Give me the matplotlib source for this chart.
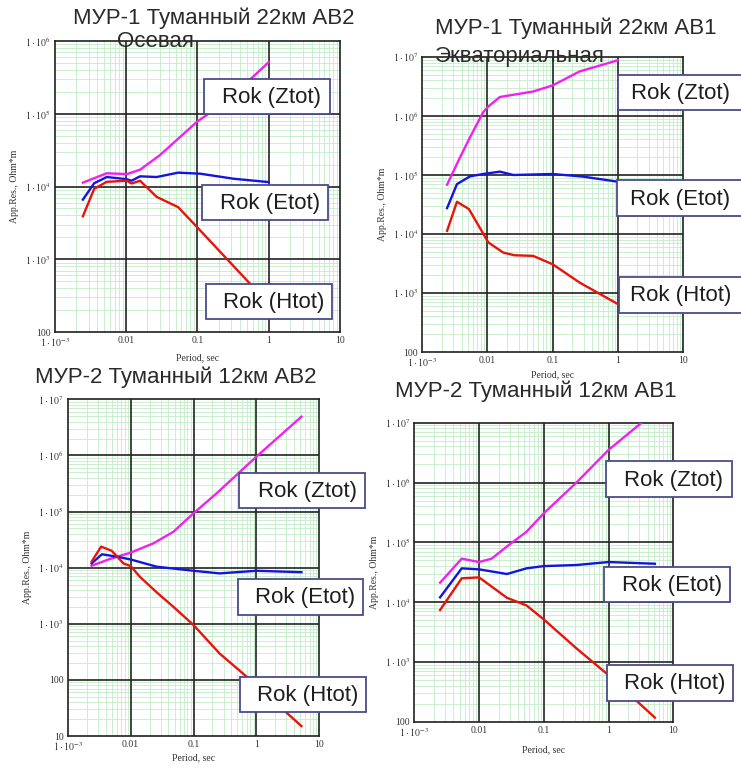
import numpy as np
import matplotlib
matplotlib.use('Agg')
from matplotlib import pyplot as plt
from matplotlib.ticker import LogLocator, FuncFormatter, NullFormatter
from matplotlib.patches import Rectangle

plt.rcParams['mathtext.fontset'] = 'stix'
plt.rcParams['font.family'] = ['Liberation Serif', 'DejaVu Serif']

# ---- данные (период, с / кажущееся сопротивление, Ом*м) ----
# МУР-1 Туманный 22км АВ2
p1_z_per = [0.0025, 0.0036, 0.0054, 0.0103, 0.0158, 0.03, 0.1, 0.26, 1.0]
p1_z_val = [11300, 13000, 15200, 14800, 17000, 27000, 78000, 150000, 510000]
p1_e_per = [0.0025, 0.0036, 0.0054, 0.0103, 0.012, 0.0158, 0.027, 0.054, 0.11, 0.32, 1.0]
p1_e_val = [6600, 11100, 13500, 12600, 12000, 13800, 13500, 15500, 15000, 12800, 11500]
p1_h_per = [0.0025, 0.0036, 0.0054, 0.0103, 0.012, 0.0158, 0.027, 0.054, 0.1, 0.55, 1.0]
p1_h_val = [3900, 9300, 11600, 12000, 11000, 12000, 7200, 5200, 2750, 460, 245]

# МУР-1 Туманный 22км АВ1
p2_z_per = [0.0024, 0.0038, 0.0054, 0.0086, 0.0103, 0.0155, 0.05, 0.1, 0.26, 1.0]
p2_z_val = [68600, 200000, 436000, 1160000, 1450000, 2100000, 2600000, 3300000, 5700000, 8800000]
p2_e_per = [0.0024, 0.0034, 0.0054, 0.0086, 0.0155, 0.025, 0.1, 0.29, 1.0]
p2_e_val = [27500, 70000, 95000, 104000, 114000, 100000, 104000, 94000, 77000]
p2_h_per = [0.0024, 0.0034, 0.0052, 0.0103, 0.0174, 0.026, 0.05, 0.1, 0.26, 1.0]
p2_h_val = [11300, 35200, 26400, 7200, 4850, 4360, 4260, 3070, 1500, 650]

# МУР-2 Туманный 12км АВ2
p3_z_per = [0.0024, 0.0047, 0.01, 0.023, 0.048, 0.1, 0.233, 1.0, 5.2]
p3_z_val = [10800, 14300, 18500, 27100, 43600, 93000, 211000, 950000, 4900000]
p3_e_per = [0.0024, 0.0035, 0.006, 0.01, 0.026, 0.1, 0.26, 1.0, 5.2]
p3_e_val = [11900, 17300, 15700, 14000, 10400, 8800, 7900, 8800, 8300]
p3_h_per = [0.0024, 0.0034, 0.005, 0.0077, 0.01, 0.014, 0.026, 0.048, 0.1, 0.26, 0.7, 5.2]
p3_h_val = [12800, 23700, 20000, 11900, 10700, 6900, 3630, 2000, 950, 295, 114, 15]

# МУР-2 Туманный 12км АВ1
p4_z_per = [0.0025, 0.0054, 0.01, 0.0156, 0.0267, 0.054, 0.1, 0.32, 1.0, 3.24]
p4_z_val = [21100, 53200, 46800, 53200, 84400, 150000, 305000, 1000000, 3500000, 10000000]
p4_e_per = [0.0025, 0.0054, 0.01, 0.027, 0.054, 0.1, 0.32, 1.0, 5.2]
p4_e_val = [12000, 36700, 35300, 29500, 36700, 40000, 41700, 46800, 43800]
p4_h_per = [0.0025, 0.0054, 0.01, 0.027, 0.054, 0.1, 0.32, 1.0, 5.2]
p4_h_val = [7370, 25000, 25900, 11800, 8800, 5130, 1680, 600, 117]

labels = ['Rok (Ztot)', 'Rok (Etot)', 'Rok (Htot)']
colors = ['#f020f0', '#1414e0', '#e8140c']

W, H = 741, 769
fig = plt.figure(figsize=(W / 100, H / 100), dpi=100)


def fmt(v, pos):
    e = int(round(np.log10(v)))
    if e in (-2, -1, 0, 1, 2):
        return '%g' % v
    return r'$1\cdot10^{%d}$' % e


def panel(x0, y0, x1, y1, ymin, ymax, series, xpad=3):
    ax = fig.add_axes([x0 / W, 1 - y1 / H, (x1 - x0) / W, (y1 - y0) / H])
    for (per, val), c in zip(series, colors):
        ax.plot(per, val, color=c, lw=1.7, zorder=4)
    ax.set_xscale('log')
    ax.set_yscale('log')
    ax.set_xlim(1e-3, 10)
    ax.set_ylim(ymin, ymax)
    for a in (ax.xaxis, ax.yaxis):
        a.set_major_locator(LogLocator(base=10, numticks=20))
        a.set_minor_locator(LogLocator(base=10, subs=np.arange(2, 10), numticks=20))
        a.set_major_formatter(FuncFormatter(fmt))
        a.set_minor_formatter(NullFormatter())
        a.get_offset_text().set_visible(False)
    ax.grid(which='minor', color='#c4ecc9', lw=0.6)
    ax.set_axisbelow(True)
    # линии декад поверх зелёной сетки
    for e in range(-2, 1):
        ax.axvline(10.0 ** e, color='#222222', lw=1.2, zorder=2)
    for e in range(int(np.log10(ymin)) + 1, int(np.log10(ymax))):
        ax.axhline(10.0 ** e, color='#222222', lw=1.2, zorder=2)
    ax.tick_params(which='both', length=0, labelsize=7, colors='#333333', pad=3)
    for s in ax.spines.values():
        s.set_color('#202020')
        s.set_linewidth(1.2)
    ax.set_xlabel('Period, sec', fontsize=7, color='#333333', labelpad=xpad)
    ax.set_ylabel('App.Res., Ohm*m', fontsize=7, color='#333333', labelpad=4)
    return ax


def box(x0, y0, x1, y1, text, dx=5):
    r = Rectangle((x0 / W, 1 - y1 / H), (x1 - x0) / W, (y1 - y0) / H,
                  transform=fig.transFigure, fc='white', ec='#4b4b8c', lw=1.3)
    fig.add_artist(r)
    fig.text(((x0 + x1) / 2 + dx) / W, 1 - ((y0 + y1) / 2 + 1) / H, text,
             ha='center', va='center', fontsize=16, color='#1e1e1e',
             family=['Liberation Sans', 'DejaVu Sans'])


def title(x, y, text):
    fig.text(x / W, 1 - y / H, text, ha='left', va='baseline', fontsize=16,
             color='#2a2a2a', family=['Liberation Sans', 'DejaVu Sans'])


panel(54.5, 41, 340, 332, 100, 1e6,
      [(p1_z_per, p1_z_val), (p1_e_per, p1_e_val), (p1_h_per, p1_h_val)])
panel(422.3, 57, 683, 352, 100, 1e7,
      [(p2_z_per, p2_z_val), (p2_e_per, p2_e_val), (p2_h_per, p2_h_val)], xpad=1)
panel(67.7, 399.3, 319.3, 736, 10, 1e7,
      [(p3_z_per, p3_z_val), (p3_e_per, p3_e_val), (p3_h_per, p3_h_val)], xpad=0)
panel(414.3, 422.7, 673.3, 721.7, 100, 1e7,
      [(p4_z_per, p4_z_val), (p4_e_per, p4_e_val), (p4_h_per, p4_h_val)], xpad=5)

# подписи кривых
for (bx0, by0, bx1, by1), lab in zip([(204, 79, 330, 114), (202, 185, 328, 220), (206, 284, 332, 319)], labels):
    box(bx0, by0, bx1, by1, lab)
for (bx0, by0, bx1, by1), lab in zip([(618, 75, 745, 110), (617, 180, 745, 216), (619, 277, 745, 313)], labels):
    box(bx0, by0, bx1, by1, lab, dx=-1)
for (bx0, by0, bx1, by1), lab in zip([(239, 473, 365, 508), (238, 579, 363, 615), (240, 677, 366, 712)], labels):
    box(bx0, by0, bx1, by1, lab)
for (bx0, by0, bx1, by1), lab in zip([(606, 461, 732, 497), (604, 567, 730, 602), (607, 665, 733, 701)], labels):
    box(bx0, by0, bx1, by1, lab)

title(73, 24, 'МУР-1 Туманный 22км АВ2')
title(117, 47, 'Осевая')
title(435, 34, 'МУР-1 Туманный 22км АВ1')
title(435, 62, 'Экваториальная')
title(35, 383, 'МУР-2 Туманный 12км АВ2')
title(395, 397, 'МУР-2 Туманный 12км АВ1')

fig.savefig('out.png', dpi=100)
